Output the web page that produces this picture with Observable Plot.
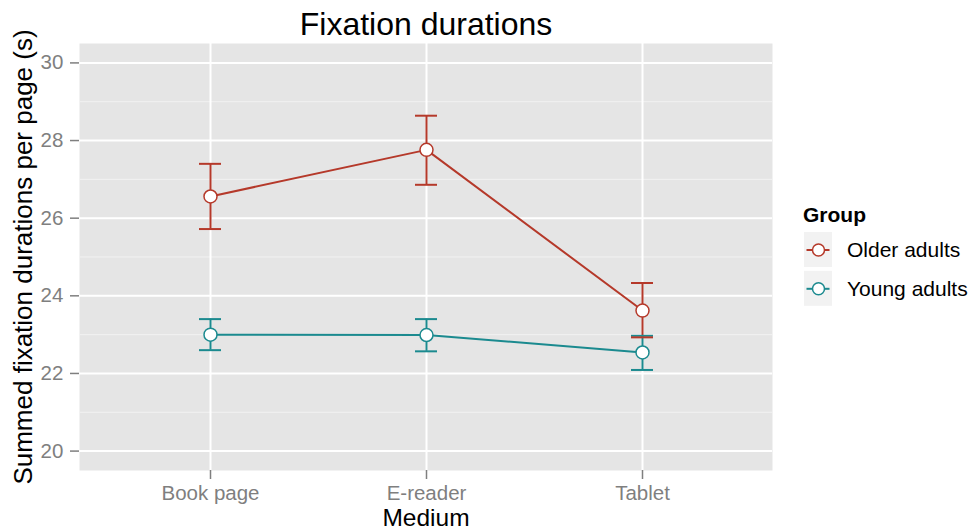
<!DOCTYPE html>
<html>
<head>
<meta charset="utf-8">
<script src="https://cdn.jsdelivr.net/npm/d3@7"></script>
<script src="https://cdn.jsdelivr.net/npm/@observablehq/plot@0.6"></script>
<style>
  html, body { margin: 0; padding: 0; background: white; }
  #wrap { position: relative; width: 974px; height: 530px; overflow: hidden; }
  #legend { position: absolute; left: 790px; top: 190px; }
</style>
</head>
<body>
<div id="wrap"></div>
<script>
const media = ["Book page", "E-reader", "Tablet"];
const groups = ["Older adults", "Young adults"];
const colors = ["#b5392a", "#1b8a8f"];
const olderMean = [26.56, 27.76, 23.62];
const olderLow  = [25.72, 26.86, 22.93];
const olderHigh = [27.40, 28.64, 24.33];
const youngMean = [23.00, 22.99, 22.54];
const youngLow  = [22.60, 22.57, 22.09];
const youngHigh = [23.40, 23.40, 22.97];
const yTicks = [20, 22, 24, 26, 28, 30];
const yMinor = [21, 23, 25, 27, 29];
const titleText = "Fixation durations";
const xTitle = "Medium";
const yTitle = "Summed fixation durations per page (s)";
const legendTitle = "Group";

const rows = [];
media.forEach((m, i) => rows.push({medium: m, group: groups[0], mean: olderMean[i], low: olderLow[i], high: olderHigh[i]}));
media.forEach((m, i) => rows.push({medium: m, group: groups[1], mean: youngMean[i], low: youngLow[i], high: youngHigh[i]}));

const font = "'Liberation Sans', Arial, Helvetica, sans-serif";

const chart = Plot.plot({
  width: 974,
  height: 530,
  marginLeft: 79,
  marginRight: 202,
  marginTop: 43,
  marginBottom: 60,
  style: {background: "white", fontFamily: font, fontSize: "20.5px", overflow: "visible"},
  x: {type: "point", domain: media, padding: 0.6, label: null},
  y: {domain: [19.5, 30.5], label: null},
  color: {domain: groups, range: colors},
  marks: [
    Plot.frame({fill: "#e5e5e5", stroke: "none"}),
    Plot.ruleY(yMinor, {stroke: "#f2f2f2", strokeWidth: 1}),
    Plot.ruleY(yTicks, {stroke: "white", strokeWidth: 2}),
    Plot.ruleX(media, {stroke: "white", strokeWidth: 2}),
    Plot.axisY(yTicks, {tickSize: 9, tickPadding: 7.2, color: "#7f7f7f", strokeWidth: 1.5, label: null, fontSize: 20.5}),
    Plot.axisX({tickSize: 9, tickPadding: 6, color: "#7f7f7f", strokeWidth: 1.5, label: null, fontSize: 20.5}),
    Plot.ruleX(rows, {x: "medium", y1: "low", y2: "high", stroke: "group", strokeWidth: 2}),
    Plot.ruleY(rows, {y: "high", x1: "medium", x2: "medium", insetLeft: -11, insetRight: -11, stroke: "group", strokeWidth: 2}),
    Plot.ruleY(rows, {y: "low", x1: "medium", x2: "medium", insetLeft: -11, insetRight: -11, stroke: "group", strokeWidth: 2}),
    Plot.line(rows, {x: "medium", y: "mean", stroke: "group", z: "group", strokeWidth: 2}),
    Plot.dot(rows, {x: "medium", y: "mean", r: 6.5, fill: "white", stroke: "group", strokeWidth: 1.5}),
    Plot.text([titleText], {frameAnchor: "top", textAnchor: "middle", lineAnchor: "middle", dy: -18.3, fontSize: 32, fill: "black"}),
    Plot.text([xTitle], {frameAnchor: "bottom", textAnchor: "middle", lineAnchor: "middle", dy: 47.3, fontSize: 24.5, fill: "black"}),
    Plot.text([yTitle], {frameAnchor: "left", textAnchor: "middle", lineAnchor: "middle", rotate: -90, dx: -56, fontSize: 26, fill: "black"})
  ]
});

const wrap = document.getElementById("wrap");
wrap.appendChild(chart);

// Legend
const leg = d3.select(wrap).append("svg")
  .attr("id", "legend")
  .attr("width", 184)
  .attr("height", 130)
  .style("font-family", font);

leg.append("text")
  .attr("x", 13).attr("y", 31.7)
  .attr("font-size", 21).attr("font-weight", "bold").attr("fill", "black")
  .text(legendTitle);

groups.forEach((g, i) => {
  const y0 = 42 + i * 38.8;
  const item = leg.append("g");
  item.append("rect").attr("x", 14).attr("y", y0).attr("width", 28).attr("height", 35).attr("fill", "#f2f2f2");
  item.append("line").attr("x1", 16.5).attr("x2", 39.5).attr("y1", y0 + 18).attr("y2", y0 + 18)
    .attr("stroke", colors[i]).attr("stroke-width", 2);
  item.append("circle").attr("cx", 28.5).attr("cy", y0 + 18).attr("r", 6)
    .attr("fill", "white").attr("stroke", colors[i]).attr("stroke-width", 1.5);
  item.append("text").attr("x", 57).attr("y", y0 + 24.7)
    .attr("font-size", 21).attr("fill", "black").text(g);
});
</script>
</body>
</html>
